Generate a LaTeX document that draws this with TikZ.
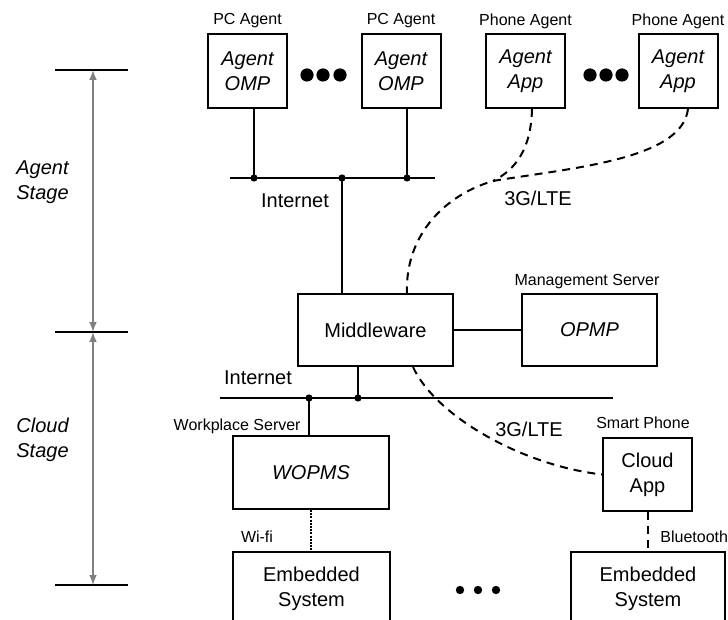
\documentclass[tikz,border=0pt]{standalone}
\usepackage{fontspec}
\setmainfont{Liberation Sans}
\usepackage{tikz}
\tikzset{>=latex}
\tikzset{
  unit/.style={draw, line width=1pt, align=center, inner sep=0pt, font=\fontsize{10}{12.5}\selectfont},
  agentbox/.style={unit, font=\fontsize{10}{12.5}\selectfont\itshape, minimum width=39.5pt, minimum height=37pt},
  tag/.style={inner sep=0pt, font=\fontsize{8}{9.6}\selectfont},
  word/.style={inner sep=0pt, align=left, font=\fontsize{10}{12.5}\selectfont},
  wire/.style={line width=1pt},
  radio/.style={line width=1pt, dash pattern=on 4pt off 3pt},
  stagearrow/.style={<->, draw=gray, line width=0.7pt},
}

\begin{document}
\begin{tikzpicture}[x=0.5pt,y=-0.5pt]
            \useasboundingbox (0,0) rectangle (728,620);
            % agent stage
            \node[agentbox] (omp1) at (247.5,71) {Agent\\OMP};
            \node[agentbox] (omp2) at (401,71) {Agent\\OMP};
            \node[agentbox] (app1) at (525.5,71) {Agent\\App};
            \node[agentbox] (app2) at (678,71) {Agent\\App};
            \node[tag] (pc1) at (247.5,21) {PC Agent};
            \node[tag] (pc2) at (401,21) {PC Agent};
            \node[tag] (ph1) at (525.5,21) {Phone Agent};
            \node[tag] (ph2) at (678,21) {Phone Agent};
            \foreach \x in {307,323,340,590,606,622}
                \fill (\x,75) circle (3.3pt);
            \node[unit, minimum width=77.5pt, minimum height=36pt] (mid) at (375.5,330) {Middleware};
            \node[unit, minimum width=67.5pt, minimum height=36pt, font=\fontsize{10}{12.5}\selectfont\itshape] (opmp) at (589.5,330) {OPMP};
            \node[tag] (mgmt) at (587,282) {Management Server};
            % internet bus on top
            \coordinate (b1w) at (230,178);
            \coordinate (b1e) at (435,178);
            \coordinate (j1) at (254,178);
            \coordinate (j2) at (342,178);
            \coordinate (j3) at (407,178);
            \draw[wire] (b1w) -- (b1e);
            \draw[wire] (j1) -- (j1 |- omp1.south);
            \draw[wire] (j3) -- (j3 |- omp2.south);
            \draw[wire] (j2) -- (j2 |- mid.north);
            \foreach \v in {j1,j2,j3}
                \fill (\v) circle (1.8pt);
            \node[word] (net1) at (295,201) {Internet};
            % 3G/LTE to the phones
            \coordinate (meet) at (493,181);
            \draw[radio] ([xshift=3.25pt]app1.south) .. controls (531,150) and (515,170) .. (meet);
            \draw[radio] ([xshift=5pt]app2.south) .. controls (682,160) and (570,168) .. (meet)
                .. controls (445,195) and (405,235) .. ([xshift=15.75pt]mid.north);
            \node[word] (lte1) at (538,198) {3G/LTE};
            \draw[wire] (mid.east) -- (opmp.west);
            % cloud stage
            \node[unit, minimum width=78pt, minimum height=36.5pt, font=\fontsize{10}{12.5}\selectfont\itshape] (wopms) at (311,472.5) {WOPMS};
            \node[unit, minimum width=44.5pt, minimum height=36.5pt] (cloud) at (647.5,474.5) {Cloud\\App};
            \node[unit, minimum width=78.5pt, minimum height=36.5pt] (emb1) at (311.5,588.5) {Embedded\\System};
            \node[unit, minimum width=77pt, minimum height=36.5pt] (emb2) at (648,588.5) {Embedded\\System};
            \node[tag, anchor=east] (work) at (301,426) {Workplace Server};
            \node[tag] (smart) at (643,423) {Smart Phone};
            \foreach \x in {460,478,496}
                \fill (\x,590) circle (2.1pt);
            % internet bus below
            \coordinate (b2w) at (220,398);
            \coordinate (b2e) at (613,398);
            \coordinate (j4) at (309,398);
            \coordinate (j5) at (358,398);
            \draw[wire] (b2w) -- (b2e);
            \draw[wire] (j5) -- (j5 |- mid.south);
            \draw[wire] (j4) -- (j4 |- wopms.north);
            \foreach \v in {j4,j5}
                \fill (\v) circle (1.8pt);
            \node[word] (net2) at (258,378) {Internet};
            \draw[radio] ([xshift=18.75pt]mid.south) .. controls (435,415) and (520,465) .. (cloud.west);
            \node[word] (lte2) at (529,429) {3G/LTE};
            \draw[line width=1pt, dash pattern=on 1pt off 0.6pt] (wopms.south) -- (wopms.south |- emb1.north);
            \draw[radio] (cloud.south) -- (cloud.south |- emb2.north);
            \node[tag] (wifi) at (257,537) {Wi-fi};
            \node[tag, anchor=west] (blue) at (660,537) {Bluetooth};
            % stages on the left
            \coordinate (s1) at (55,70);
            \coordinate (s2) at (55,332);
            \coordinate (s3) at (55,585);
            \foreach \v in {s1,s2,s3}
                \draw[wire] (\v) -- +(73,0);
            \draw[stagearrow] (93,70) -- (93,332);
            \draw[stagearrow] (93,332) -- (93,585);
            \node[word, anchor=west, font=\fontsize{10}{12.5}\selectfont\itshape] (agstage) at (16,182.5) {Agent\\Stage};
            \node[word, anchor=west, font=\fontsize{10}{12.5}\selectfont\itshape] (clstage) at (16,439.5) {Cloud\\Stage};
        \end{tikzpicture}
\end{document}
